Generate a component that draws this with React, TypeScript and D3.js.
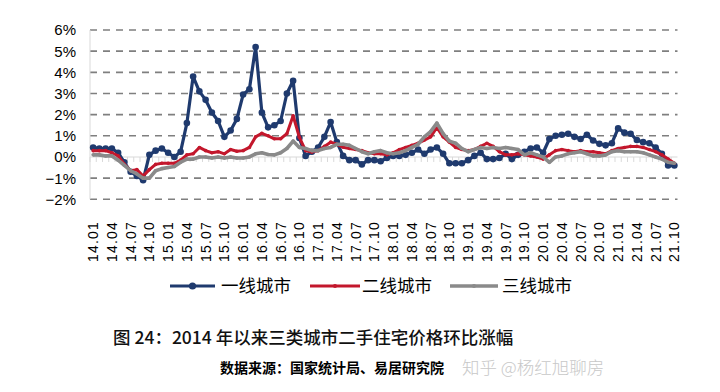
import React from "react";
import * as d3 from "d3";

// monthly categories 2014.01 - 2021.10
const years = ["14", "15", "16", "17", "18", "19", "20", "21"];
const monthNames = ["01", "02", "03", "04", "05", "06", "07", "08", "09", "10", "11", "12"];
const months: string[] = [];
years.forEach((y) => {
  monthNames.forEach((m) => {
    if (y === "21" && +m > 10) return;
    months.push(`${y}.${m}`);
  });
});

const yTicks = [-2, -1, 0, 1, 2, 3, 4, 5, 6];

// 一线城市
const tier1 = [
  0.45, 0.4, 0.4, 0.4, 0.2, -0.25, -0.7, -0.9, -1.1, 0.1, 0.3, 0.4,
  0.2, 0.0, 0.25, 1.6, 3.8, 3.1, 2.7, 2.1, 1.7, 0.95, 1.25, 1.8,
  2.95, 3.2, 5.2, 2.1, 1.4, 1.5, 1.7, 3.0, 3.6, 0.9, 0.05, 0.25,
  0.45, 0.95, 1.65, 0.7, 0.05, -0.15, -0.15, -0.35, -0.15, -0.15, -0.2, -0.05,
  0.05, 0.05, 0.1, 0.2, 0.35, 0.15, 0.35, 0.45, 0.15, -0.3, -0.3, -0.3,
  -0.15, 0.05, 0.2, -0.1, -0.1, -0.05, 0.15, -0.1, 0.1, 0.25, 0.4, 0.45,
  0.2, 0.85, 1.0, 1.05, 1.1, 0.95, 0.85, 1.05, 0.78, 0.62, 0.55, 0.65,
  1.35, 1.15, 1.1, 0.8, 0.7, 0.65, 0.45, 0.15, -0.4, -0.4,
];

// 二线城市
const tier2 = [
  0.3, 0.3, 0.3, 0.2, 0.05, -0.35, -0.65, -0.6, -0.9, -0.6, -0.35, -0.3,
  -0.3, -0.3, -0.15, 0.1, 0.15, 0.45, 0.3, 0.2, 0.25, 0.15, 0.35, 0.27,
  0.3, 0.45, 0.95, 1.12, 1.0, 0.86, 0.86, 1.1, 1.95, 0.93, 0.3, 0.23,
  0.3, 0.5, 0.7, 0.6, 0.46, 0.4, 0.35, 0.3, 0.2, 0.15, 0.15, 0.1,
  0.2, 0.35, 0.45, 0.55, 0.65, 0.8, 0.95, 1.4, 0.95, 0.7, 0.45, 0.35,
  0.3, 0.35, 0.5, 0.65, 0.5, 0.25, 0.1, 0.1, 0.15, 0.1, 0.05, 0.0,
  -0.1, 0.1, 0.3, 0.35, 0.3, 0.25, 0.3, 0.25, 0.25, 0.2, 0.15, 0.3,
  0.4, 0.45, 0.5, 0.5, 0.45, 0.35, 0.25, 0.1, -0.1, -0.3,
];

// 三线城市
const tier3 = [
  0.1, 0.1, 0.05, 0.05, -0.15, -0.4, -0.65, -0.8, -1.0, -1.0, -0.65, -0.55,
  -0.5, -0.45, -0.25, -0.1, -0.1, 0.0, 0.0, -0.05, 0.0, -0.05, 0.0, -0.05,
  -0.05, 0.0, 0.15, 0.2, 0.12, 0.1, 0.2, 0.4, 0.75, 0.45, 0.4, 0.3,
  0.3, 0.4, 0.45, 0.6, 0.6, 0.55, 0.4, 0.25, 0.15, 0.25, 0.3, 0.2,
  0.15, 0.2, 0.3, 0.45, 0.6, 0.95, 1.2, 1.6, 1.1, 0.75, 0.65, 0.4,
  0.25, 0.35, 0.45, 0.4, 0.45, 0.4, 0.45, 0.4, 0.35, 0.1, 0.2, 0.1,
  0.0, -0.25, 0.0, 0.05, 0.15, 0.2, 0.25, 0.15, 0.05, 0.05, 0.1, 0.25,
  0.3, 0.25, 0.25, 0.25, 0.2, 0.1, 0.0, -0.1, -0.25, -0.3,
];

const series = [
  { name: "一线城市", values: tier1, color: "#1F3A6E", width: 3.2, marker: 3.3 },
  { name: "二线城市", values: tier2, color: "#C3172C", width: 3, marker: 1.8 },
  { name: "三线城市", values: tier3, color: "#8A8A8A", width: 3.6, marker: 1.8 },
];

const cjk = "'Noto Sans CJK SC', sans-serif";
const latin = "'Liberation Sans', Arial, sans-serif";

export default function App() {
  const x = d3.scaleBand<string>().domain(months).range([90, 677.5]);
  const y = d3.scaleLinear().domain([-2, 6]).range([199.3, 30]);
  const cx = (i: number) => (x(months[i]) as number) + x.bandwidth() / 2;

  const line = d3
    .line<number>()
    .x((_, i) => cx(i))
    .y((d) => y(d));

  const legendItems = [
    { x1: 170, x2: 215, tx: 221 },
    { x1: 310, x2: 360, tx: 362 },
    { x1: 450, x2: 498, tx: 502 },
  ];

  return (
    <div style={{ position: "absolute", left: 0, top: 0 }}>
      <svg width={720} height={392} style={{ display: "block", background: "#fff" }}>
        {/* grid */}
        {yTicks
          .filter((t) => t !== 0)
          .map((t) => (
            <line
              key={t}
              x1={90}
              x2={677.5}
              y1={y(t)}
              y2={y(t)}
              stroke="#7F7F7F"
              strokeWidth={1.6}
              strokeDasharray="7,6"
            />
          ))}
        {/* axes */}
        <line x1={90} x2={90} y1={y(6)} y2={y(-2)} stroke="#D9D9D9" strokeWidth={1} />
        <line x1={90} x2={677.5} y1={y(0)} y2={y(0)} stroke="#D9D9D9" strokeWidth={1.2} />
        {months.map((m) => (
          <line
            key={m}
            x1={x(m) as number}
            x2={x(m) as number}
            y1={y(0)}
            y2={y(0) + 5}
            stroke="#D9D9D9"
            strokeWidth={1}
          />
        ))}
        {yTicks.map((t) => (
          <text
            key={t}
            x={76}
            y={y(t)}
            dy="0.36em"
            textAnchor="end"
            fontFamily={latin}
            fontSize={15}
            fill="#000"
          >
            {t < 0 ? `\u2212${-t}%` : `${t}%`}
          </text>
        ))}
        {months.map((m, i) =>
          i % 3 === 0 ? (
            <text
              key={m}
              transform={`translate(${cx(i) + 5},221) rotate(-90)`}
              textAnchor="end"
              fontFamily={latin}
              fontSize={14}
              letterSpacing={1.2}
              fill="#000"
            >
              {m}
            </text>
          ) : null
        )}
        {/* series */}
        {series.map((s) => (
          <g key={s.name}>
            <path
              d={line(s.values) || ""}
              fill="none"
              stroke={s.color}
              strokeWidth={s.width}
              strokeLinejoin="round"
            />
            {s.values.map((v, i) => (
              <circle key={i} cx={cx(i)} cy={y(v)} r={s.marker} fill={s.color} />
            ))}
          </g>
        ))}
        {/* legend */}
        {series.map((s, k) => {
          const li = legendItems[k];
          return (
            <g key={s.name}>
              <line
                x1={li.x1}
                x2={li.x2}
                y1={286}
                y2={286}
                stroke={s.color}
                strokeWidth={s.width}
              />
              <circle cx={(li.x1 + li.x2) / 2} cy={286} r={s.marker + 0.3} fill={s.color} />
              <text
                x={li.tx}
                y={286}
                dy="0.36em"
                fontFamily={cjk}
                fontSize={17.5}
                fill="#000"
              >
                {s.name}
              </text>
            </g>
          );
        })}
        {/* captions */}
        <text x={113} y={338} dy="0.36em" fontFamily={cjk} fontSize={17.5} fontWeight={500} fill="#111">
          图 24：2014 年以来三类城市二手住宅价格环比涨幅
        </text>
        <text x={220} y={368} dy="0.36em" fontFamily={cjk} fontSize={14} fontWeight={700} fill="#000">
          数据来源：国家统计局、易居研究院
        </text>
        <text x={462} y={368} dy="0.36em" fontFamily={cjk} fontSize={17.5} fontWeight={300} fill="#C8C8C8">
          知乎 @杨红旭聊房
        </text>
      </svg>
    </div>
  );
}
